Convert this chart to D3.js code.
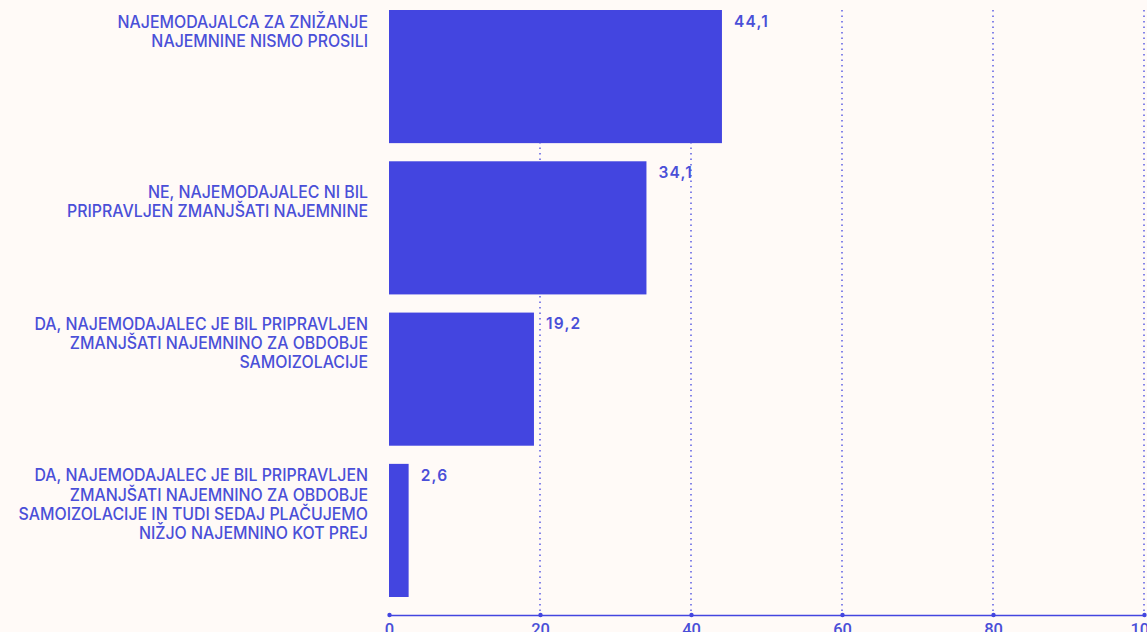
<html>
<head><meta charset="utf-8"></head>
<script src="https://cdn.jsdelivr.net/npm/d3@7"></script>
<body style="margin:0;background:#fffaf7">
<svg width=1147 height=632></svg>
<script>
// answers (lines of each label) and shares in %
const labels = [
    ["NAJEMODAJALCA ZA ZNIŽANJE", "NAJEMNINE NISMO PROSILI"],
    ["", "NE, NAJEMODAJALEC NI BIL", "PRIPRAVLJEN ZMANJŠATI NAJEMNINE"],
    ["DA, NAJEMODAJALEC JE BIL PRIPRAVLJEN", "ZMANJŠATI NAJEMNINO ZA OBDOBJE", "SAMOIZOLACIJE"],
    ["DA, NAJEMODAJALEC JE BIL PRIPRAVLJEN", "ZMANJŠATI NAJEMNINO ZA OBDOBJE", "SAMOIZOLACIJE IN TUDI SEDAJ PLAČUJEMO", "NIŽJO NAJEMNINO KOT PREJ"]
];
const values = [44.1, 34.1, 19.2, 2.6];
const ticks = [0, 20, 40, 60, 80, 100];

const blue = '#4345e0', txt = '#4a4fd8';
const svg = d3.select('svg');
const x = d3.scaleLinear().domain([0, 100]).range([389, 1144]);
const y = d3.scaleBand().domain(d3.range(values.length)).range([10, 597]).paddingInner(0.12).paddingOuter(0);
const fmt = d => d3.format('.1f')(d).replace('.', ',');

// value labels
svg.append('g').selectAll('text').data(values).join('text')
    .attr('x', d => x(d) + 12).attr('y', (d, i) => y(i) + 16.7)
    .attr('fill', txt).attr('font-family', 'Inter, sans-serif').attr('font-weight', 600)
    .attr('font-size', 15.5).attr('letter-spacing', 1.2)
    .text(fmt);

// grid
svg.append('g').selectAll('line').data(ticks.slice(1)).join('line')
    .attr('x1', d => x(d)).attr('x2', d => x(d)).attr('y1', 10).attr('y2', 615)
    .attr('stroke', blue).attr('stroke-width', 1.3).attr('stroke-dasharray', '1.5,4');

// bars
svg.append('g').selectAll('rect').data(values).join('rect')
    .attr('x', x(0)).attr('y', (d, i) => y(i))
    .attr('width', d => x(d) - x(0)).attr('height', y.bandwidth())
    .attr('fill', blue);

// category labels (slightly condensed)
svg.append('g').attr('transform', 'translate(368,0) scale(0.935,1)')
    .selectAll('text').data(labels).join('text')
    .attr('text-anchor', 'end').attr('fill', txt)
    .attr('font-family', 'Inter, sans-serif').attr('font-weight', 500)
    .attr('font-size', 17)
    .each(function(lines, i) {
        d3.select(this).selectAll('tspan').data(lines).join('tspan')
            .attr('x', 0).attr('y', (l, j) => y(i) + 17.6 + j * 19.1)
            .text(l => l);
    });

// axis
const ax = svg.append('g').attr('transform', 'translate(0,615)')
    .call(d3.axisBottom(x).tickValues(ticks).tickSize(0).tickPadding(8));
ax.select('.domain').attr('stroke', blue).attr('stroke-width', 1.5);
ax.selectAll('.tick text').attr('fill', txt).attr('font-family', 'Roboto, sans-serif').attr('font-weight', 500).attr('font-size', 16.5);
ax.selectAll('.tick').append('circle').attr('r', 2.2).attr('fill', blue);
</script>
</body>
</html>
